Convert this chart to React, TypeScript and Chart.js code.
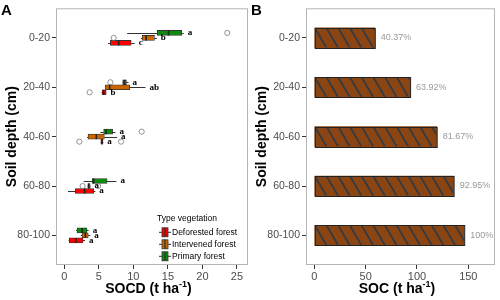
import React, { useEffect, useRef } from 'react';
import { Chart, registerables } from 'chart.js';
Chart.register(...registerables);

// ---------- data ----------
const depthLabels = ['0-20', '20-40', '40-60', '60-80', '80-100'];
const socdTicks = [0, 5, 10, 15, 20, 25];
const socTicks = [0, 50, 100, 150];

// five-number summaries per depth: [lower whisker, Q1, median, Q3, upper whisker]
const primaryStats = [
  [9.1, 13.45, 15.1, 17.0, 17.3],
  [8.4, 8.46, 8.7, 9.0, 9.3],
  [5.22, 5.7, 6.05, 7.0, 7.4],
  [2.8, 4.06, 4.25, 6.19, 7.55],
  [1.7, 1.84, 2.57, 3.29, 3.53],
];
const intervenedStats = [
  [11.1, 11.27, 11.85, 13.06, 13.4],
  [5.9, 5.95, 6.57, 9.47, 11.75],
  [3.3, 3.44, 4.64, 5.8, 7.65],
  [3.35, 3.4, 3.55, 3.75, 3.8],
  [2.4, 2.57, 3.05, 3.47, 3.77],
];
const deforestedStats = [
  [6.34, 6.67, 7.88, 9.68, 10.2],
  [5.4, 5.47, 5.7, 6.06, 6.1],
  [5.25, 5.3, 5.45, 5.6, 5.65],
  [0.54, 1.6, 2.94, 4.25, 4.5],
  [0.62, 0.73, 1.7, 2.71, 3.0],
];
const primaryOutliers = [[23.6], [6.67], [11.2], [], []];
const intervenedOutliers = [[7.15], [], [], [2.66, 4.9], []];
const deforestedOutliers = [[], [3.67], [2.18, 8.22], [], []];
const primaryLetters = ['a', 'a', 'a', 'a', 'a'];
const intervenedLetters = ['b', 'ab', 'a', 'a', 'a'];
const deforestedLetters = ['c', 'b', 'a', 'a', 'a'];

const socTotals = [58.9, 93.3, 119.2, 135.7, 146.0];
const socPercentLabels = ['40.37%', '63.92%', '81.67%', '92.95%', '100%'];

// ---------- styles ----------
const FONT = "'Liberation Sans', Arial, sans-serif";
const SERIF = "'Liberation Serif', 'Times New Roman', serif";
const RED = '#FF0000';
const ORANGE = '#CD6600';
const GREEN = '#0E8A0E';
const EDGE = '#333333';
const TICK_COLOR = '#4d4d4d';

const seriesA = [
  { name: 'Primary forest', color: GREEN, stats: primaryStats, outliers: primaryOutliers, letters: primaryLetters },
  { name: 'Intervened forest', color: ORANGE, stats: intervenedStats, outliers: intervenedOutliers, letters: intervenedLetters },
  { name: 'Deforested forest', color: RED, stats: deforestedStats, outliers: deforestedOutliers, letters: deforestedLetters },
];

function drawXTitle(ctx: CanvasRenderingContext2D, cx: number, y: number, main: string, sup: string, close: string) {
  ctx.save();
  ctx.fillStyle = '#000';
  ctx.textBaseline = 'alphabetic';
  ctx.textAlign = 'left';
  const big = `bold 14px ${FONT}`;
  const small = `bold 9px ${FONT}`;
  ctx.font = big;
  const w1 = ctx.measureText(main).width;
  const w3 = ctx.measureText(close).width;
  ctx.font = small;
  const w2 = ctx.measureText(sup).width;
  let x = cx - (w1 + w2 + w3) / 2;
  ctx.font = big;
  ctx.fillText(main, x, y);
  x += w1;
  ctx.font = small;
  ctx.fillText(sup, x, y - 5.5);
  x += w2;
  ctx.font = big;
  ctx.fillText(close, x, y);
  ctx.restore();
}

function drawYTitle(ctx: CanvasRenderingContext2D, x: number, cy: number, text: string) {
  ctx.save();
  ctx.translate(x, cy);
  ctx.rotate(-Math.PI / 2);
  ctx.fillStyle = '#000';
  ctx.font = `bold 14px ${FONT}`;
  ctx.textAlign = 'center';
  ctx.textBaseline = 'alphabetic';
  ctx.fillText(text, 0, 0);
  ctx.restore();
}

function drawPanelLabel(ctx: CanvasRenderingContext2D, text: string) {
  ctx.save();
  ctx.fillStyle = '#000';
  ctx.font = `bold 15px ${FONT}`;
  ctx.textAlign = 'left';
  ctx.textBaseline = 'alphabetic';
  ctx.fillText(text, 1, 15);
  ctx.restore();
}

function drawFrame(chart: any) {
  const { ctx, chartArea: a } = chart;
  ctx.save();
  ctx.strokeStyle = '#b5b5b5';
  ctx.lineWidth = 1;
  ctx.strokeRect(a.left + 0.5, a.top + 0.5, a.right - a.left - 1, a.bottom - a.top - 1);
  ctx.restore();
}

const axisCommon = {
  border: { display: false },
  grid: { display: true, drawOnChartArea: false, drawTicks: true, tickLength: 4, color: EDGE, lineWidth: 1 },
};

const boxPlugin = {
  id: 'boxExtras',
  beforeDatasetsDraw(chart: any) {
    const { ctx } = chart;
    const xs = chart.scales.x;
    drawFrame(chart);
    ctx.save();
    ctx.strokeStyle = EDGE;
    ctx.lineWidth = 1;
    seriesA.forEach((s, di) => {
      const meta = chart.getDatasetMeta(di);
      meta.data.forEach((el: any, i: number) => {
        const st = s.stats[i];
        const y = Math.round(el.y) + 0.5;
        ctx.beginPath();
        ctx.moveTo(xs.getPixelForValue(st[0]), y);
        ctx.lineTo(xs.getPixelForValue(st[1]), y);
        ctx.moveTo(xs.getPixelForValue(st[3]), y);
        ctx.lineTo(xs.getPixelForValue(st[4]), y);
        ctx.stroke();
      });
    });
    ctx.restore();
  },
  afterDatasetsDraw(chart: any) {
    const { ctx, chartArea: a } = chart;
    const xs = chart.scales.x;
    ctx.save();
    seriesA.forEach((s, di) => {
      const meta = chart.getDatasetMeta(di);
      meta.data.forEach((el: any, i: number) => {
        const st = s.stats[i];
        const h = el.height;
        // median
        ctx.strokeStyle = '#222';
        ctx.lineWidth = 1.6;
        const mx = xs.getPixelForValue(st[2]);
        ctx.beginPath();
        ctx.moveTo(mx, el.y - h / 2);
        ctx.lineTo(mx, el.y + h / 2);
        ctx.stroke();
        // outliers
        ctx.strokeStyle = '#7a7a7a';
        ctx.lineWidth = 0.8;
        s.outliers[i].forEach((v: number) => {
          ctx.beginPath();
          ctx.arc(xs.getPixelForValue(v), el.y, 2.6, 0, Math.PI * 2);
          ctx.stroke();
        });
        // letters
        ctx.fillStyle = '#000';
        ctx.font = `bold 9px ${SERIF}`;
        ctx.textAlign = 'left';
        ctx.textBaseline = 'middle';
        ctx.fillText(s.letters[i], xs.getPixelForValue(st[4]) + 4, el.y);
      });
    });
    // legend
    const lx = a.right - 91;
    const titleY = a.bottom - 46;
    ctx.fillStyle = '#000';
    ctx.font = `8.5px ${FONT}`;
    ctx.textAlign = 'left';
    ctx.textBaseline = 'middle';
    ctx.fillText('Type vegetation', lx, titleY);
    const order = [2, 1, 0];
    order.forEach((si, k) => {
      const s = seriesA[si];
      const cy = a.bottom - 32.7 + k * 12;
      const kx = lx + 5;
      ctx.strokeStyle = EDGE;
      ctx.lineWidth = 1;
      ctx.beginPath();
      ctx.moveTo(kx - 3, cy);
      ctx.lineTo(kx + 9, cy);
      ctx.stroke();
      ctx.fillStyle = s.color;
      ctx.fillRect(kx, cy - 4.5, 6, 9);
      ctx.lineWidth = 0.8;
      ctx.strokeRect(kx, cy - 4.5, 6, 9);
      ctx.lineWidth = 1.4;
      ctx.beginPath();
      ctx.moveTo(kx + 3, cy - 4.5);
      ctx.lineTo(kx + 3, cy + 4.5);
      ctx.stroke();
      ctx.fillStyle = '#000';
      ctx.fillText(s.name, lx + 15, cy);
    });
    ctx.restore();
  },
  afterDraw(chart: any) {
    const { ctx, chartArea: a } = chart;
    drawPanelLabel(ctx, 'A');
    drawXTitle(ctx, (a.left + a.right) / 2 - 3.5, 292.5, 'SOCD (t ha', '-1', ')');
    drawYTitle(ctx, 15.5, (a.top + a.bottom) / 2, 'Soil depth (cm)');
  },
};

const barPlugin = {
  id: 'barExtras',
  beforeDatasetsDraw(chart: any) {
    drawFrame(chart);
  },
  afterDatasetsDraw(chart: any) {
    const { ctx } = chart;
    const meta = chart.getDatasetMeta(0);
    ctx.save();
    meta.data.forEach((el: any, i: number) => {
      const left = Math.min(el.base, el.x);
      const right = Math.max(el.base, el.x);
      const top = el.y - el.height / 2;
      const bottom = el.y + el.height / 2;
      const hgt = bottom - top;
      ctx.save();
      ctx.beginPath();
      ctx.rect(left + 0.5, top + 0.5, right - left - 1, hgt - 1);
      ctx.clip();
      ctx.strokeStyle = '#343a42';
      ctx.lineWidth = 1.8;
      const spacing = 11.7;
      const dx = hgt * 0.585;
      for (let x0 = left - dx - spacing; x0 < right + spacing; x0 += spacing) {
        ctx.beginPath();
        ctx.moveTo(x0, top);
        ctx.lineTo(x0 + dx, bottom);
        ctx.stroke();
      }
      ctx.restore();
      ctx.strokeStyle = '#222';
      ctx.lineWidth = 1;
      ctx.strokeRect(left + 0.5, Math.round(top) + 0.5, right - left, Math.round(hgt));
      ctx.fillStyle = '#999999';
      ctx.font = `9px ${FONT}`;
      ctx.textAlign = 'left';
      ctx.textBaseline = 'middle';
      ctx.fillText(socPercentLabels[i], right + 6, el.y);
    });
    ctx.restore();
  },
  afterDraw(chart: any) {
    const { ctx, chartArea: a } = chart;
    drawPanelLabel(ctx, 'B');
    drawXTitle(ctx, (a.left + a.right) / 2 - 3.5, 292.5, 'SOC (t ha', '-1', ')');
    drawYTitle(ctx, 15.5, (a.top + a.bottom) / 2, 'Soil depth (cm)');
  },
};

function yScale() {
  return {
    type: 'linear',
    reverse: true,
    min: -0.6,
    max: 4.6,
    offset: false,
    ...axisCommon,
    grid: { ...axisCommon.grid, offset: false },
    afterBuildTicks: (s: any) => {
      s.ticks = depthLabels.map((_, i) => ({ value: i }));
    },
    afterFit: (s: any) => {
      s.width = 56;
    },
    ticks: {
      color: TICK_COLOR,
      font: { family: FONT, size: 10.5 },
      padding: 2,
      callback: (v: any) => depthLabels[Math.round(v)] ?? '',
    },
  };
}

function xScale(min: number, max: number, tickVals: number[]) {
  return {
    type: 'linear',
    min,
    max,
    ...axisCommon,
    afterBuildTicks: (s: any) => {
      s.ticks = tickVals.map((v) => ({ value: v }));
    },
    afterFit: (s: any) => {
      s.height = 35;
    },
    ticks: {
      color: TICK_COLOR,
      font: { family: FONT, size: 11 },
      padding: 1,
      maxRotation: 0,
    },
  };
}

function PanelA() {
  const ref = useRef<HTMLCanvasElement>(null);
  useEffect(() => {
    const chart = new Chart(ref.current as HTMLCanvasElement, {
      type: 'bar',
      data: {
        datasets: seriesA.map((s) => ({
          label: s.name,
          data: s.stats.map((st, i) => ({ x: [st[1], st[3]], y: i })),
          backgroundColor: s.color,
          borderColor: EDGE,
          borderWidth: 0.8,
          borderSkipped: false,
          barThickness: 5,
        })),
      } as any,
      options: {
        indexAxis: 'y',
        responsive: false,
        animation: false,
        devicePixelRatio: 1,
        layout: { padding: { top: 4, right: 2, left: 0, bottom: 0 } },
        plugins: { legend: { display: false }, tooltip: { enabled: false } },
        scales: {
          x: xScale(-1.2, 26.6, socdTicks),
          y: yScale(),
        },
      } as any,
      plugins: [boxPlugin],
    });
    return () => chart.destroy();
  }, []);
  return <canvas ref={ref} width={250} height={300} style={{ width: 250, height: 300, display: 'block' }} />;
}

function PanelB() {
  const ref = useRef<HTMLCanvasElement>(null);
  useEffect(() => {
    const chart = new Chart(ref.current as HTMLCanvasElement, {
      type: 'bar',
      data: {
        datasets: [
          {
            label: 'SOC',
            data: socTotals.map((v, i) => ({ x: v, y: i })),
            backgroundColor: '#8B4513',
            borderColor: '#222',
            borderWidth: 0,
            borderSkipped: false,
            barThickness: 20,
          },
        ],
      } as any,
      options: {
        indexAxis: 'y',
        responsive: false,
        animation: false,
        devicePixelRatio: 1,
        layout: { padding: { top: 4, right: 5, left: 0, bottom: 0 } },
        plugins: { legend: { display: false }, tooltip: { enabled: false } },
        scales: {
          x: xScale(-8.1, 176, socTicks),
          y: yScale(),
        },
      } as any,
      plugins: [barPlugin],
    });
    return () => chart.destroy();
  }, []);
  return <canvas ref={ref} width={250} height={300} style={{ width: 250, height: 300, display: 'block' }} />;
}

export default function App() {
  return (
    <div style={{ position: 'fixed', left: 0, top: 0, width: 500, height: 300, display: 'flex', background: '#fff' }}>
      <PanelA />
      <PanelB />
    </div>
  );
}
